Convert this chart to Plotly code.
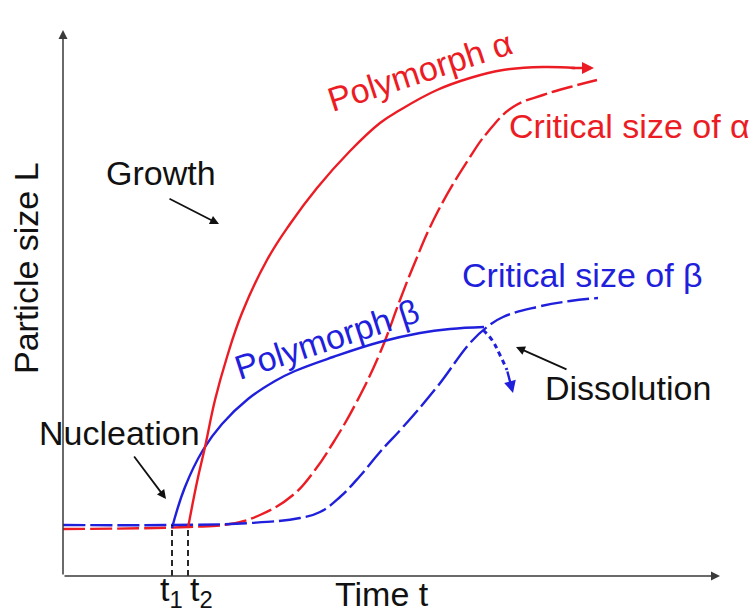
import plotly.graph_objects as go

# Schematic curves: time t vs particle size L (arbitrary units)
t_beta = [10.9, 12.2, 14.0, 15.9, 18.5, 21.2, 23.2, 27.0, 31.7, 35.7, 38.7, 42.1]
L_beta = [4.8, 8.9, 12.6, 15.2, 17.7, 19.5, 20.5, 21.9, 23.4, 24.3, 24.7, 24.9]

t_alpha = [12.5, 13.4, 14.2, 15.2, 16.4, 17.9, 20.4, 22.7, 25.4, 28.7, 31.7, 33.7, 37.4, 40.7, 44.0, 48.0, 51.2]
L_alpha = [4.8, 9.4, 12.9, 17.6, 21.9, 26.3, 31.6, 35.2, 38.8, 42.5, 45.3, 46.6, 48.6, 49.8, 50.6, 50.9, 50.8]
t_alpha_tip, L_alpha_tip = 53.1, 50.8

t_crit_alpha = [0.0, 12.5, 16.7, 19.7, 23.0, 25.2, 27.0, 29.2, 31.7, 33.7, 35.0, 37.4, 40.7, 42.4, 45.0, 48.0, 50.7, 53.4]
L_crit_alpha = [4.7, 4.9, 5.2, 6.1, 8.1, 10.6, 13.3, 17.1, 22.3, 27.6, 30.9, 36.3, 41.9, 44.3, 46.9, 48.1, 48.9, 49.6]

t_crit_beta = [0.0, 10.9, 18.7, 23.7, 25.7, 27.7, 29.7, 31.7, 34.0, 37.4, 40.7, 42.4, 44.0, 47.4, 50.7, 53.5]
L_crit_beta = [5.1, 5.1, 5.3, 5.8, 6.4, 7.9, 10.0, 12.4, 14.9, 18.9, 23.3, 24.9, 25.9, 26.9, 27.5, 27.8]

t_dissolve = [42.0, 42.9, 43.7, 44.4]
L_dissolve = [24.6, 23.6, 22.1, 20.6]
t_dissolve_tip, L_dissolve_tip = 45.0, 18.3

t1, t2 = 10.9, 12.5
L_t1, L_t2 = 5.1, 4.9

t_axis_end, L_axis_end = 65.7, 54.6

RED = "#ec1c24"
BLUE = "#1f1fdc"
AX = "#3a3a3a"
FONT = "Liberation Sans"
FS = 34

fig = go.Figure()

def line(x, y, color, dash="solid", width=2.4, shape="spline"):
    fig.add_trace(go.Scatter(x=x, y=y, mode="lines",
                             line=dict(color=color, width=width, dash=dash, shape=shape, smoothing=1.2),
                             hoverinfo="skip", showlegend=False))

# critical sizes (long dashes)
line(t_crit_alpha, L_crit_alpha, RED, dash="22px,5px")
line(t_crit_beta, L_crit_beta, BLUE, dash="22px,5px")
# polymorph growth curves
line(t_beta, L_beta, BLUE)
line(t_alpha, L_alpha, RED)
# dissolution path
line(t_dissolve, L_dissolve, BLUE, dash="5px,4px", width=3)
# nucleation times
line([t1, t1], [0, L_t1], "#111111", dash="6px,4px", width=1.8, shape="linear")
line([t2, t2], [0, L_t2], "#111111", dash="6px,4px", width=1.8, shape="linear")

ann = []

def arrow(x, y, ax, ay, color, width=1.6, size=1.0, head=2):
    ann.append(dict(x=x, y=y, ax=ax, ay=ay, xref="x", yref="y", axref="x", ayref="y",
                    showarrow=True, arrowhead=head, arrowsize=size, arrowwidth=width,
                    arrowcolor=color, text=""))

def label(x, y, text, color="#111111", angle=0, size=FS):
    ann.append(dict(x=x, y=y, xref="x", yref="y", text=text, showarrow=False,
                    textangle=angle, font=dict(family=FONT, size=size, color=color),
                    xanchor="center", yanchor="middle"))

# axes with arrowheads
arrow(0, L_axis_end, 0, 0, AX, width=1.5, size=1.2)
arrow(t_axis_end, 0, 0, 0, AX, width=1.5, size=1.2)
# end of polymorph alpha
arrow(t_alpha_tip, L_alpha_tip, t_alpha[-1] - 0.5, L_alpha[-1], RED, width=2.4, size=1.0)
# dissolution head
arrow(t_dissolve_tip, L_dissolve_tip, t_dissolve[-1], L_dissolve[-1], BLUE, width=2.4, size=1.0)
# pointer arrows
arrow(15.6, 35.2, 10.5, 37.8, "#111111", width=1.8)
arrow(10.3, 7.7, 7.0, 12.1, "#111111", width=1.8)
arrow(45.3, 22.9, 50.5, 20.6, "#111111", width=1.8)

label(9.8, 40.3, "Growth")
label(5.6, 14.3, "Nucleation")
label(56.5, 18.8, "Dissolution")
label(26.4, 23.7, "Polymorph β", BLUE, angle=-18)
label(35.7, 50.5, "Polymorph α", RED, angle=-18)
label(56.6, 45.0, "Critical size of α", RED)
label(51.9, 30.1, "Critical size of β", BLUE)
label(-3.7, 30.8, "Particle size L", angle=-90)
label(31.9, -1.8, "Time t")
label(10.8, -1.5, "t<sub>1</sub>")
label(13.8, -1.5, "t<sub>2</sub>")

fig.update_layout(
    width=753, height=609,
    margin=dict(l=0, r=0, t=0, b=0),
    paper_bgcolor="white", plot_bgcolor="white",
    xaxis=dict(range=[-6.3, 69.0], visible=False, fixedrange=True),
    yaxis=dict(range=[-3.3, 57.6], visible=False, fixedrange=True),
    annotations=ann,
    showlegend=False,
)

fig.write_html("out.html")
